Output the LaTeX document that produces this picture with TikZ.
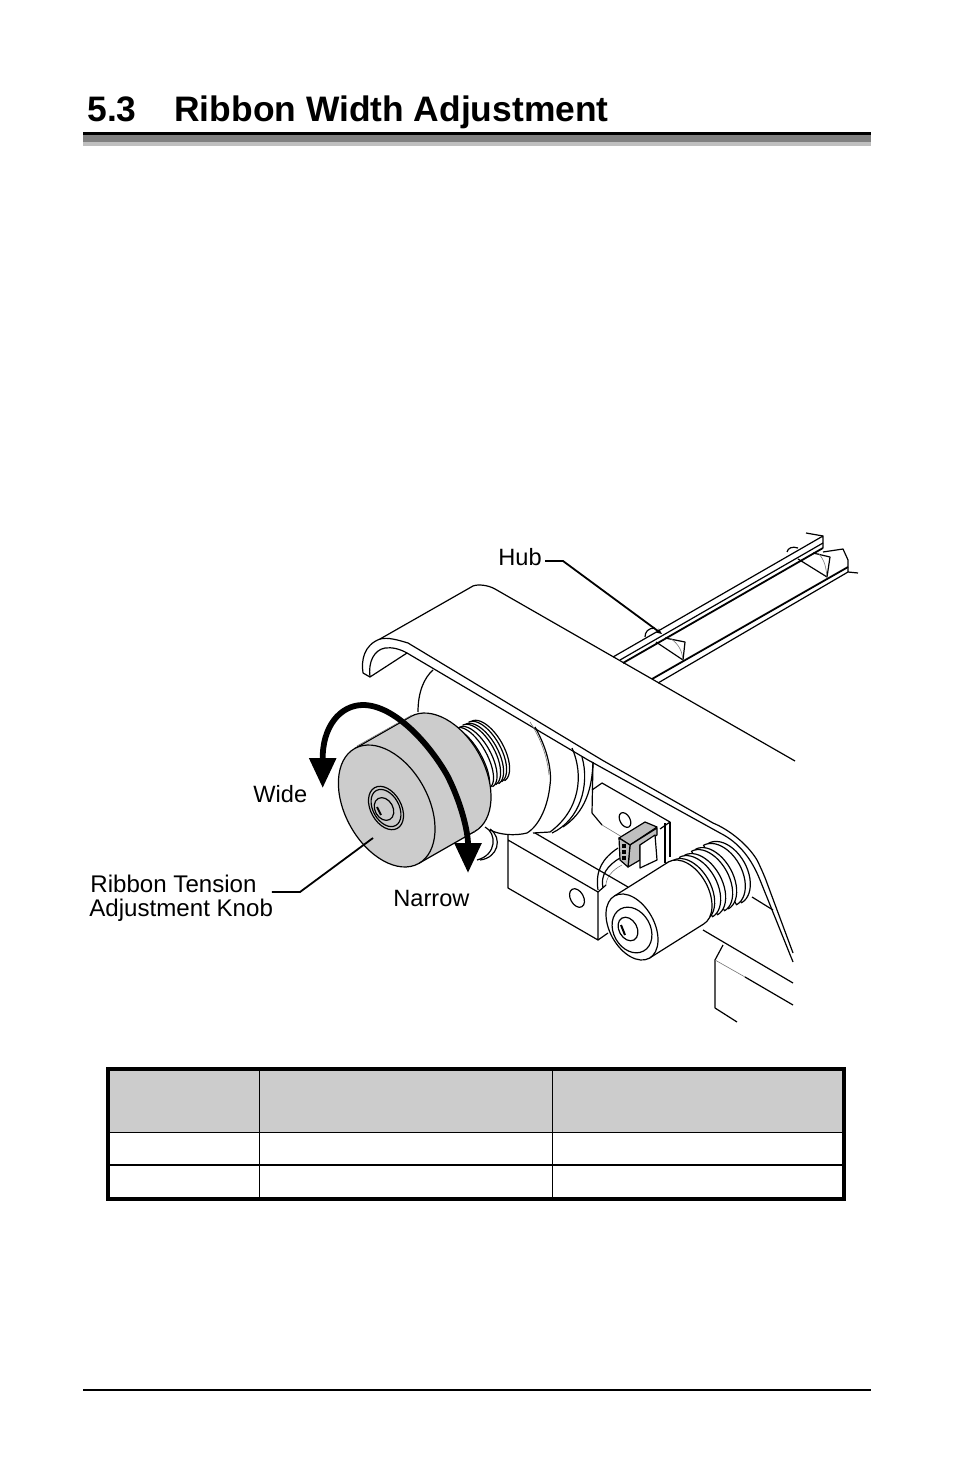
\documentclass[tikz,border=0pt]{standalone}
\usepackage{fontspec}
\setmainfont{Liberation Sans}
\usetikzlibrary{arrows.meta}

\begin{document}
\begin{tikzpicture}[x=0.5pt, y=-0.5pt,
    part/.style={draw=black, line width=0.6pt, line join=round},
    thinpart/.style={draw=black!55, line width=0.3pt},
    heavypart/.style={draw=black, line width=0.9pt},
    tilt/.style={shift={(#1)}, rotate=-61},
    knobfill/.style={fill=black!20},
    leader/.style={draw=black, line width=0.9pt},
    callout/.style={font=\fontsize{11.8}{12}\selectfont, inner sep=0pt, anchor=base west},
    longcallout/.style={callout, font=\fontsize{12.05}{12}\selectfont},
    turnarrow/.style={draw=black, line width=2.9pt, {Triangle[length=15pt,width=13pt]}-{Triangle[length=15pt,width=13pt]}},
    tablerule/.style={draw=black, line width=#1}
]
\useasboundingbox (0,0) rectangle (954,1475);

% Heading
\node[font=\fontsize{17.7}{20}\selectfont\bfseries, inner sep=0pt, anchor=base west] (secnum) at (87,122) {5.3};
\node[font=\fontsize{17.7}{20}\selectfont\bfseries, inner sep=0pt, anchor=base west] (sectitle) at (174,122) {Ribbon Width Adjustment};
\fill[black] (83,132) rectangle (871,135);
\fill[black!50] (83,135) rectangle (871,142);
\fill[black!25] (83,142) rectangle (871,146);
\fill[black] (83,1389) rectangle (871,1391);

% Rails behind the plate
\draw[part] (613,657) -- (823,536) -- (823,548);
\draw[part] (620,660) -- (823,543);
\draw[heavypart] (623,663) -- (823,548);
\draw[heavypart] (652,679) -- (848,567);
\draw[part] (658,683) -- (848,572);
\draw[part] (806,533) -- (823,536);
\draw[part] (823,552) -- (843,549) -- (848,560) -- (848,572) -- (858,573);
% Ribs and hub bumps
\draw[part] (656,642) -- (683,660) -- (685,642) -- (665,638);
\draw[thinpart] (670,638) .. controls (680,645) and (682,652) .. (683,660);
\draw[part] (798,559) -- (827,577) -- (830,557) -- (813,553);
\draw[thinpart] (818,553) .. controls (825,560) and (826,568) .. (827,577);
\draw[part] (645,637) .. controls (645,632) and (648,628) .. (655,628);
\draw[part] (787,552) .. controls (788,548) and (792,546) .. (798,548);

% Top plate
\draw[part] (363,673) .. controls (361,660) and (364,645) .. (380,639)
    -- (473,586) .. controls (478,584) and (488,585) .. (495,589) -- (795,761);
\draw[part] (380,639) .. controls (388,637) and (398,640) .. (408,643)
    -- (602,760) -- (713,823) .. controls (730,830) and (748,845) .. (757,860)
    .. controls (762,870) and (766,880) .. (767,883) -- (793,953);
\draw[part] (407,653) -- (588,760) -- (720,833) .. controls (740,843) and (752,860) .. (760,880)
    -- (793,962);
\draw[part] (363,673) -- (370,677) -- (407,653);
\draw[part] (370,677) .. controls (368,662) and (374,650) .. (385,648)
    .. controls (392,647) and (400,649) .. (407,653);
% Shaft housing behind the knob
\draw[part] (433,670) .. controls (424,678) and (418,692) .. (418,712);
\draw[part] (535,727) .. controls (548,750) and (552,772) .. (550,785)
    .. controls (548,805) and (540,825) .. (527,833) .. controls (515,836) and (500,835) .. (490,830);
\draw[part] (572,748) .. controls (584,775) and (580,810) .. (550,832) -- (533,833);
\draw[part] (582,757) .. controls (590,785) and (580,820) .. (552,833);
\draw[part] (593,762) .. controls (592,790) and (585,812) .. (563,827);
\draw[thinpart] (530,722) .. controls (545,745) and (548,765) .. (549,775);

% Connector plate
\draw[part] (593,762) -- (592,813) -- (602,825);
\draw[thinpart] (602,825) -- (622,837);
\draw[part] (592,790) -- (602,783) -- (670,822) -- (660,829);
\draw[part] (665,823) -- (665,863);
\draw[part] (670,822) -- (670,857);
\draw[part, tilt={625,820}] (0,0) ellipse [x radius=8, y radius=5];
% Wires
\draw[part] (618,848) .. controls (603,858) and (595,870) .. (598,890);
\draw[part] (620,858) .. controls (608,865) and (600,875) .. (603,888);
\draw[thinpart] (622,865) .. controls (612,870) and (606,878) .. (606,885);
% Gray connector
\draw[part, fill=black!25] (619,838) -- (645,822) -- (657,827) -- (630,845) -- cycle;
\draw[part, fill=black!25] (630,845) -- (657,828) -- (657,835) -- (640,845) -- (640,860) -- (628,867) -- cycle;
\draw[part, fill=black!25] (619,838) -- (630,845) -- (628,867) -- (620,860) -- cycle;
\foreach \i in {0,1,2}
    \fill[black] (622,{844+6*\i}) rectangle (626,{848+6*\i});
\draw[part, fill=white] (640,845) -- (655,835) -- (657,860) -- (640,868) -- cycle;

% Lower bracket block
\draw[part] (535,833) -- (628,887);
\draw[part] (508,835) -- (508,888) -- (598,940) -- (598,892) -- (508,840);
\draw[part] (598,940) -- (608,933);
\draw[part] (598,892) -- (606,885);
\draw[part, tilt={577,898}] (0,0) ellipse [x radius=10, y radius=6.5];

% Lower right frame
\draw[part] (703,930) -- (793,983);
\draw[part] (723,945) -- (715,960) -- (715,1008);
\draw[thinpart] (715,960) -- (745,977);
\draw[part] (745,977) -- (793,1005);
\draw[part] (715,1008) -- (737,1022);
\draw[part] (752,897) -- (773,910);

% Threads of the small cylinder
\foreach \cx/\cy/\rb in {725/873/22, 720/875/22, 712/879/21, 708/881/21, 701/885/21, 696/887/21, 690/890/21}
    \draw[part, tilt={\cx,\cy}, fill=white] plot[domain=180:360, samples=25, smooth] ({34*cos(\x)},{\rb*sin(\x)}) -- cycle;
% Small cylinder
\draw[part, fill=white, tilt={686,893}] (0,0) ellipse [x radius=35.7, y radius=22.2];
\fill[white] (614.7,895.8) -- (668.7,861.8) -- (703.3,924.2) -- (649.3,958.2) -- cycle;
\draw[part] (614.7,895.8) -- (668.7,861.8) (649.3,958.2) -- (703.3,924.2);
\draw[part, fill=white, tilt={632,927}] (0,0) ellipse [x radius=35.7, y radius=22.2];
\draw[part, tilt={632,930}] (0,0) ellipse [x radius=24, y radius=18.5];
\draw[part, tilt={628,929}] (0,0) ellipse [x radius=12.5, y radius=9];
\draw[black, line width=1pt] (621,925) -- (625,935);

% Thread rings behind the knob
\foreach \cx/\cy/\rb in {470/760/12, 473/758/14, 476/757/15, 479/755/16, 482/754/16, 485/752/16, 488/751/16}
    \draw[part, tilt={\cx,\cy}] plot[domain=180:360, samples=25, smooth] ({34*cos(\x)},{\rb*sin(\x)});
\draw[part] (485,827) .. controls (497,833) and (497,855) .. (477,860);
\draw[part] (490,829) .. controls (503,838) and (498,858) .. (480,860);

% Knob
\draw[part, knobfill, tilt={442.7,774}] (0,0) ellipse [x radius=65.8, y radius=41.5];
\fill[black!20] (354.8,748.5) -- (410.8,716.5) -- (474.6,831.5) -- (418.6,863.5) -- cycle;
\draw[part] (354.8,748.5) -- (410.8,716.5) (418.6,863.5) -- (474.6,831.5);
\draw[thinpart] (357,746) -- (412,715);
\draw[part, knobfill, tilt={386.7,806}] (0,0) ellipse [x radius=65.8, y radius=41.5];
\draw[part, tilt={386,808}] (0,0) ellipse [x radius=23.3, y radius=15.3];
\draw[part, tilt={386,808}] (0,0) ellipse [x radius=20, y radius=13];
\draw[part, tilt={384,809}] (0,0) ellipse [x radius=12, y radius=9];
\draw[black, line width=1pt] (377,807) -- (381,815);

% Turning direction
\coordinate (widetip) at (322.7,788);
\coordinate (narrowtip) at (468,873);
\draw[turnarrow] (widetip) -- (322.7,760) .. controls (322,727) and (340,705) .. (363,705)
    .. controls (395,705) and (430,745) .. (447,775) .. controls (460,800) and (468,830) .. (narrowtip);

% Callouts
\node[callout] (hublabel) at (498,565) {Hub};
\coordinate (hubbend) at (563,561);
\coordinate (hubtip) at (662,634);
\draw[leader, -{Stealth[length=3pt,width=2.5pt]}] (hublabel.base east |- hubbend) ++(3,0) -- (hubbend) -- (hubtip);
\node[callout] (widelabel) at (253,802) {Wide};
\node[callout] (narrowlabel) at (393,906) {Narrow};
\node[longcallout] (knoblabel1) at (90,892) {Ribbon Tension};
\node[longcallout] (knoblabel2) at (89,916) {Adjustment Knob};
\coordinate (knobbend) at (300,892);
\coordinate (knobtip) at (373,838);
\draw[leader] (knoblabel1.base east |- knobbend) ++(15,0) -- (knobbend) -- (knobtip);

% Table
\fill[black!20] (108,1069) rectangle (844,1132);
\foreach \xpos in {259.5,552.5}
    \draw[tablerule=0.5pt] (\xpos,1069) -- (\xpos,1199);
\draw[tablerule=0.5pt] (108,1132) -- (844,1132);
\draw[tablerule=1pt] (108,1165) -- (844,1165);
\draw[tablerule=2pt] (108,1069) rectangle (844,1199);
\end{tikzpicture}
\end{document}
